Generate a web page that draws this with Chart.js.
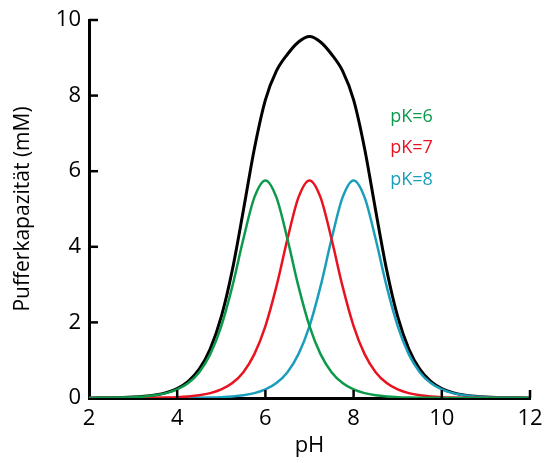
<!DOCTYPE html>
<html>
<head>
<meta charset="utf-8">
<script src="https://cdn.jsdelivr.net/npm/chart.js@4.4.0/dist/chart.umd.min.js"></script>
<style>
  html, body { margin: 0; padding: 0; background: #fff; }
  #wrap { width: 545px; height: 463px; position: relative; }
</style>
</head>
<body>
<div id="wrap"><canvas id="chartBuffer"></canvas></div>
<script>
/* Pufferkapazität vs. pH — drei Puffer (pK 6/7/8) und Summe */
const pH = [2, 2.25, 2.5, 2.75, 3, 3.25, 3.5, 3.75, 4, 4.25, 4.5, 4.75, 5, 5.25, 5.5, 5.75,
  6, 6.25, 6.5, 6.75, 7, 7.25, 7.5, 7.75, 8, 8.25, 8.5, 8.75, 9, 9.25, 9.5, 9.75,
  10, 10.25, 10.5, 10.75, 11, 11.25, 11.5, 11.75, 12];

const pK6 = [0.002, 0.004, 0.007, 0.013, 0.023, 0.041, 0.072, 0.128, 0.226, 0.395, 0.684, 1.161,
  1.903, 2.952, 4.205, 5.306, 5.757, 5.306, 4.205, 2.952, 1.903, 1.161, 0.684, 0.395,
  0.226, 0.128, 0.072, 0.041, 0.023, 0.013, 0.007, 0.004, 0.002, 0.001, 0.001, 0, 0, 0, 0, 0, 0];

const pK7 = [0, 0, 0.001, 0.001, 0.002, 0.004, 0.007, 0.013, 0.023, 0.041, 0.072, 0.128,
  0.226, 0.395, 0.684, 1.161, 1.903, 2.952, 4.205, 5.306, 5.757, 5.306, 4.205, 2.952,
  1.903, 1.161, 0.684, 0.395, 0.226, 0.128, 0.072, 0.041, 0.023, 0.013, 0.007, 0.004,
  0.002, 0.001, 0.001, 0, 0];

const pK8 = [0, 0, 0, 0, 0, 0, 0.001, 0.001, 0.002, 0.004, 0.007, 0.013,
  0.023, 0.041, 0.072, 0.128, 0.226, 0.395, 0.684, 1.161, 1.903, 2.952, 4.205, 5.306,
  5.757, 5.306, 4.205, 2.952, 1.903, 1.161, 0.684, 0.395, 0.226, 0.128, 0.072, 0.041,
  0.023, 0.013, 0.007, 0.004, 0.002];

const total = [0.002, 0.004, 0.008, 0.014, 0.025, 0.045, 0.080, 0.142, 0.251, 0.440, 0.763, 1.302,
  2.152, 3.388, 4.961, 6.595, 7.886, 8.653, 9.094, 9.419, 9.563, 9.419, 9.094, 8.653,
  7.886, 6.595, 4.961, 3.388, 2.152, 1.302, 0.763, 0.440, 0.251, 0.142, 0.080, 0.045,
  0.025, 0.014, 0.008, 0.004, 0.002];

const xTicks = [2, 4, 6, 8, 10, 12];
const yTicks = [0, 2, 4, 6, 8, 10];

const series = [
  { label: 'pK=6', values: pK6, color: '#0c9a4a', width: 2.5 },
  { label: 'pK=7', values: pK7, color: '#e8131f', width: 2.5 },
  { label: 'pK=8', values: pK8, color: '#1a9ebb', width: 2.5 },
  { label: 'Summe', values: total, color: '#000000', width: 3 },
];

const FONT = '"Open Sans", "Noto Sans", sans-serif';

// Beschriftungen pK=… und nach innen zeigende Teilstriche
const extras = {
  id: 'extras',
  afterDraw(chart) {
    const { ctx, scales: { x, y } } = chart;
    ctx.save();
    ctx.strokeStyle = '#000';
    ctx.lineWidth = 2.5;
    xTicks.slice(1).forEach(v => {
      const px = x.getPixelForValue(v);
      ctx.beginPath(); ctx.moveTo(px, y.bottom); ctx.lineTo(px, y.bottom - 8); ctx.stroke();
    });
    yTicks.slice(1).forEach(v => {
      const py = y.getPixelForValue(v);
      ctx.beginPath(); ctx.moveTo(x.left, py); ctx.lineTo(x.left + 9, py); ctx.stroke();
    });
    ctx.font = '18px ' + FONT;
    ctx.textAlign = 'left';
    ctx.textBaseline = 'middle';
    const lx = x.getPixelForValue(8.83);
    [[0, 7.43], [1, 6.61], [2, 5.77]].forEach(([i, lv]) => {
      ctx.fillStyle = series[i].color;
      ctx.fillText(series[i].label, lx, y.getPixelForValue(lv));
    });
    ctx.restore();
  }
};

new Chart(document.getElementById('chartBuffer'), {
  type: 'line',
  data: {
    datasets: series.map(s => ({
      label: s.label,
      data: s.values.map((v, i) => ({ x: pH[i], y: v })),
      borderColor: s.color,
      borderWidth: s.width,
      pointRadius: 0,
      fill: false,
      cubicInterpolationMode: 'monotone'
    }))
  },
  options: {
    responsive: true,
    maintainAspectRatio: false,
    animation: false,
    layout: { padding: { top: 20, right: 15, left: 0, bottom: 0 } },
    plugins: { legend: { display: false }, tooltip: { enabled: false } },
    scales: {
      x: {
        type: 'linear', min: 2, max: 12,
        afterBuildTicks: ax => { ax.ticks = xTicks.map(v => ({ value: v })); },
        afterFit: ax => { ax.height = 65; ax.paddingLeft = 0; ax.paddingRight = 0; },
        grid: { display: false, drawTicks: false },
        border: { display: true, color: '#000', width: 3 },
        ticks: { color: '#000', font: { family: FONT, size: 22 }, padding: 8, maxRotation: 0 },
        title: { display: true, text: 'pH', color: '#000', font: { family: FONT, size: 22 }, padding: { top: 6 } }
      },
      y: {
        type: 'linear', min: 0, max: 10,
        afterBuildTicks: ax => { ax.ticks = yTicks.map(v => ({ value: v })); },
        afterFit: ax => { ax.width = 89; ax.paddingTop = 0; ax.paddingBottom = 0; },
        grid: { display: false, drawTicks: false },
        border: { display: true, color: '#000', width: 3 },
        ticks: { color: '#000', font: { family: FONT, size: 22 }, padding: 8 },
        title: { display: true, text: 'Pufferkapazität (mM)', color: '#000', font: { family: FONT, size: 21 }, padding: { top: 10, bottom: 4 } }
      }
    }
  },
  plugins: [extras]
});
</script>
</body>
</html>
